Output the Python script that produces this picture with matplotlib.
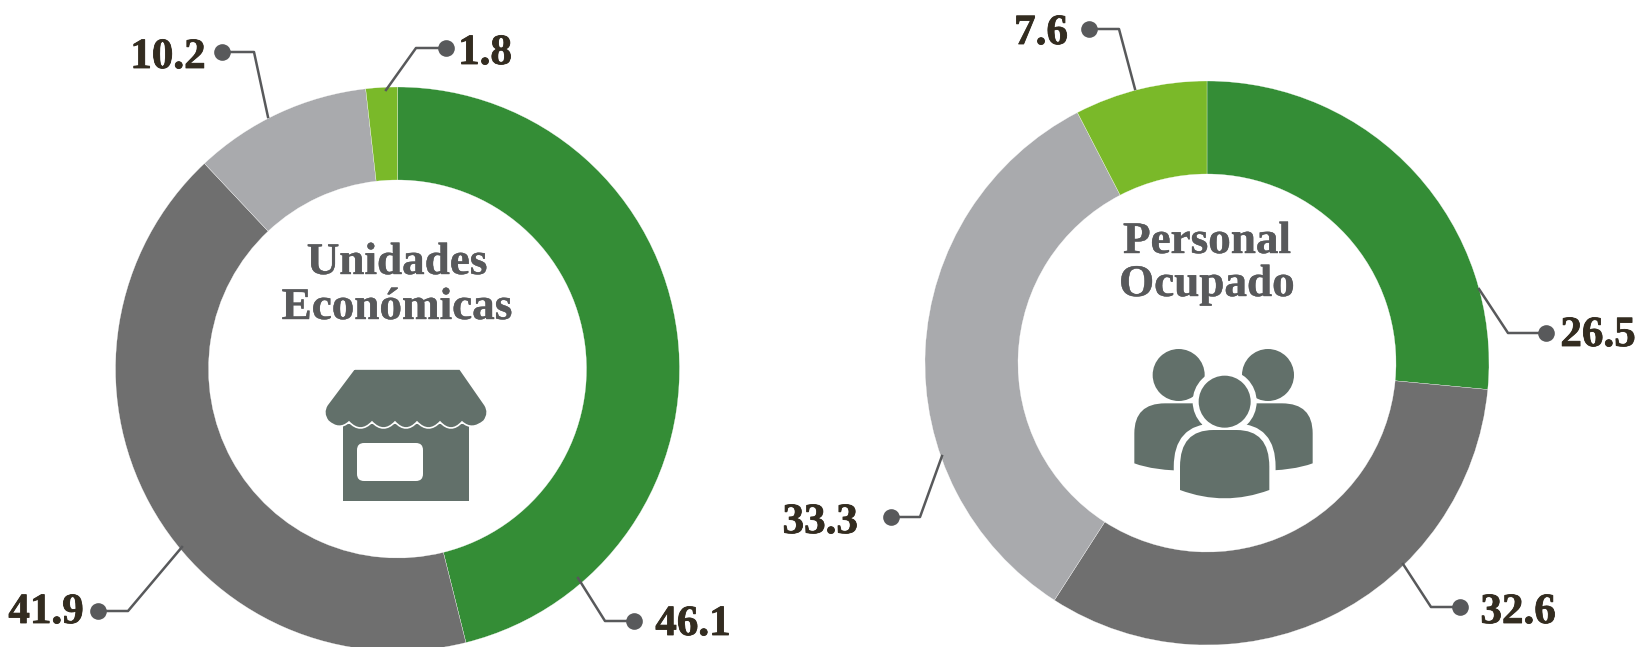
import matplotlib.pyplot as plt
import matplotlib.patheffects as pe
from matplotlib.patches import Circle, PathPatch, Rectangle, FancyBboxPatch
from matplotlib.path import Path

# values, clockwise from 12 o'clock
ue_vals = [46.1, 41.9, 10.2, 1.8]
po_vals = [26.5, 32.6, 33.3, 7.6]
colors = ['#348d36', '#6f6f6f', '#a9aaad', '#7ab929']
ICON = '#62706a'
DOT = '#58595b'
NUM = '#332c20'
W, H = 1640, 647
R, RING = 282, 93

# dot, elbow, end on the ring, label position
ue_leaders = [((634, 621), (605, 621), (578, 578), (693, 625)),
              ((98, 611), (128, 611), (182, 547), (46, 613)),
              ((222, 52), (254, 52), (268, 117), (168, 58)),
              ((446, 48), (416, 48), (386, 90), (485, 54))]
po_leaders = [((1546, 333), (1508, 333), (1479, 289), (1598, 336)),
              ((1460, 607), (1431, 607), (1403, 564), (1518, 613)),
              ((891, 517), (920, 517), (942, 456), (820, 523)),
              ((1089, 29), (1119, 29), (1135, 89), (1041, 34))]

plt.rcParams['font.family'] = ['Liberation Serif', 'DejaVu Serif']

fig = plt.figure(figsize=(W / 100, H / 100), dpi=100)
ax = fig.add_axes([0, 0, 1, 1])


def donut(vals, cx, cy, leaders):
    # y axis is flipped so counterclock=True turns clockwise on screen
    ax.pie(vals, colors=colors, center=(cx, cy), radius=R, startangle=-90,
           wedgeprops=dict(width=RING, edgecolor='white', linewidth=0.2))
    for v, (dot, elbow, end, lab) in zip(vals, leaders):
        ax.plot([dot[0], elbow[0], end[0]], [dot[1], elbow[1], end[1]],
                color=DOT, lw=1.8, zorder=4)
        ax.plot(*dot, 'o', color=DOT, ms=12, mew=0, zorder=5)
        ax.text(lab[0], lab[1], f'{v:.1f}', ha='center', va='center', fontsize=31,
                fontweight='bold', color=NUM, zorder=5,
                path_effects=[pe.withStroke(linewidth=0.6, foreground=NUM)])


donut(ue_vals, 397.5, 369, ue_leaders)
donut(po_vals, 1207, 363, po_leaders)

for txt, x, y in [('Unidades', 397, 274), ('Económicas', 397, 319),
                  ('Personal', 1207, 253), ('Ocupado', 1207, 296)]:
    ax.text(x, y, txt, ha='center', va='baseline', fontsize=32.5, fontweight='bold',
            color='#58595b', path_effects=[pe.withStroke(linewidth=0.3, foreground='#58595b')])

# shop icon
ax.add_patch(Rectangle((343, 424), 126, 77, fc=ICON, ec='none', zorder=3))
ax.add_patch(FancyBboxPatch((362, 448), 56, 28, boxstyle='round,pad=5,rounding_size=7',
                            fc='white', ec='none', zorder=3))
cusps = [462, 440, 417, 395, 372, 349]
verts = [(354, 369), (460, 369), (485, 405), (490, 413), (484, 421)]
codes = [Path.MOVETO, Path.LINETO, Path.LINETO, Path.CURVE3, Path.CURVE3]
verts += [(472, 431), (462, 422)]
codes += [Path.CURVE3, Path.CURVE3]
for a, b in zip(cusps[:-1], cusps[1:]):
    verts += [((a + b) / 2, 434), (b, 422)]
    codes += [Path.CURVE3, Path.CURVE3]
verts += [(339, 431), (328, 421), (322, 413), (327, 405), (354, 369)]
codes += [Path.CURVE3, Path.CURVE3, Path.CURVE3, Path.CURVE3, Path.LINETO]
ax.add_patch(PathPatch(Path(verts, codes), fc=ICON, ec='white', lw=1.2, zorder=3.5))


# people icon, outlines measured on a crop at 3x from (1090, 200)
def zp(x, y):
    return 1090 + x / 3, 200 + y / 3


def body(pts, codes, z):
    ax.add_patch(PathPatch(Path([zp(*p) for p in pts], codes), fc=ICON, ec='none', zorder=z))


C3, L, M = Path.CURVE3, Path.LINETO, Path.MOVETO
back = [(133, 790), (133, 700), (133, 610), (225, 610), (330, 610), (340, 700),
        (300, 813), (190, 812), (133, 790)]
back_c = [M, L, C3, C3, L, L, L, C3, C3]
body(back, back_c, 3)
body([(801 - x, y) for x, y in back], back_c, 3)
for hx in (266, 534):
    ax.add_patch(Circle(zp(hx, 525), 26, fc=ICON, ec='none', zorder=3))
ax.add_patch(Circle(zp(404, 605), 32, fc='white', ec='none', zorder=3.2))
ax.add_patch(Circle(zp(404, 605), 26, fc=ICON, ec='none', zorder=3.3))
front = [(270, 870), (270, 800), (270, 690), (370, 690), (440, 690), (538, 690),
         (538, 800), (538, 870), (404, 920), (270, 870)]
front_c = [M, L, C3, C3, L, C3, C3, L, C3, C3]
ax.add_patch(PathPatch(Path([zp(*p) for p in front], front_c), fc='white', ec='white',
                       lw=9, joinstyle='round', zorder=3.25))
body(front, front_c, 3.5)

ax.set_xlim(0, W)
ax.set_ylim(H, 0)
ax.set_aspect('auto')
ax.axis('off')

fig.savefig('out.png', dpi=100)
